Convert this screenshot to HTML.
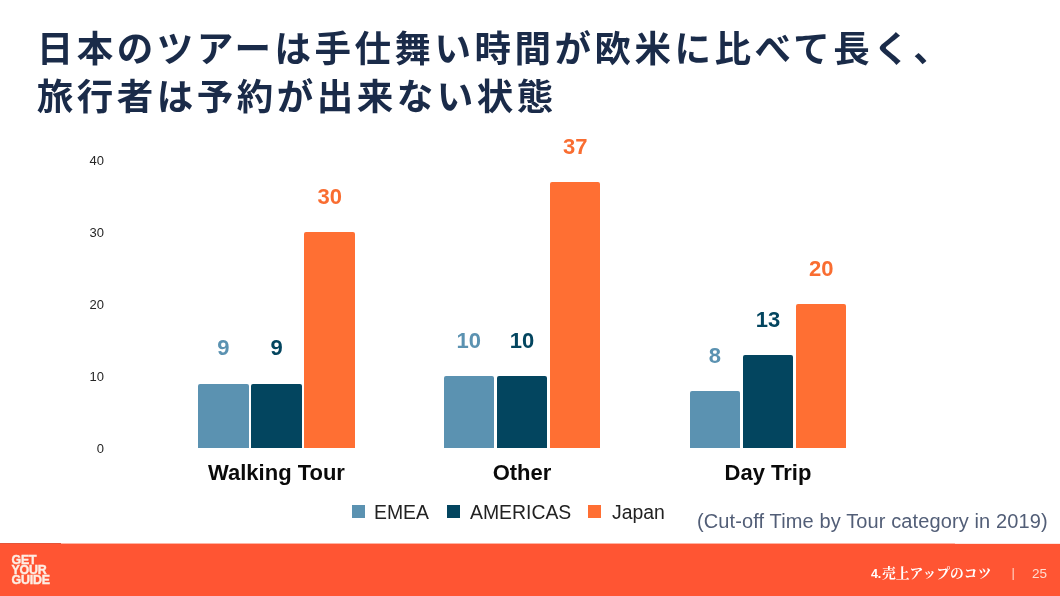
<!DOCTYPE html>
<html lang="ja">
<head>
<meta charset="utf-8">
<title>日本のツアーは手仕舞い時間が欧米に比べて長く</title>
<style>
html,body{margin:0;padding:0;background:#fff;}
body{width:1060px;height:596px;position:relative;overflow:hidden;font-family:"Liberation Sans","Noto Sans CJK JP",sans-serif;}
.abs{position:absolute;white-space:nowrap;}
#title{left:36.8px;top:25.5px;font-family:"Liberation Sans","Noto Sans CJK JP",sans-serif;font-weight:700;font-size:36.5px;line-height:48px;color:#1a2b49;letter-spacing:3.5px;}
.bar{position:absolute;border-radius:2px 2px 0 0;}
.emea{background:#5b92b1;}
.amer{background:#03455f;}
.jpn{background:#ff6f33;}
.ytick{position:absolute;left:64px;width:40px;text-align:right;font-size:13px;line-height:14px;color:#262626;}
.val{position:absolute;width:60px;text-align:center;font-weight:700;font-size:22px;line-height:24px;}
.cat{position:absolute;width:200px;text-align:center;font-weight:700;font-size:22px;line-height:26px;color:#0a0a0a;}
.lg{position:absolute;font-size:19.4px;line-height:22px;color:#222;top:501px;}
.sq{position:absolute;width:13px;height:13px;top:505px;}
#caption{left:697px;top:509px;font-family:"Liberation Sans",sans-serif;font-size:20px;line-height:24px;color:#525e77;letter-spacing:0.12px;}
#footer{position:absolute;left:0;top:544px;width:1060px;height:52px;background:#ff5533;}
#fedge{position:absolute;left:0;top:543px;width:1060px;height:1px;background:linear-gradient(to right,#e4553a 0,#e4553a 61px,#ffb3a3 61px,#ffb3a3 955px,#ffe4de 955px);}
#logo{left:11.5px;top:554.5px;color:#fdeee4;font-weight:700;font-size:12.4px;line-height:10.4px;letter-spacing:-0.2px;-webkit-text-stroke:0.4px #fdeee4;}
#ftxt{left:871px;top:565px;color:#fff;font-family:"Liberation Serif","Noto Serif CJK SC",serif;font-weight:700;font-size:13.8px;line-height:18px;}
#fsep{left:1011.5px;top:564px;color:#ffd3c4;font-size:13px;line-height:18px;}
#fnum{left:1032px;top:565px;color:#ffdccf;font-size:13.5px;line-height:18px;}
</style>
</head>
<body>
<div id="title" class="abs">日本のツアーは手仕舞い時間が欧米に比べて長く、<br>旅行者は予約が出来ない状態</div>

<div class="ytick" style="top:154px">40</div>
<div class="ytick" style="top:226px">30</div>
<div class="ytick" style="top:298px">20</div>
<div class="ytick" style="top:370px">10</div>
<div class="ytick" style="top:442px">0</div>

<!-- group Walking Tour -->
<div class="bar emea" style="left:198.0px;top:383.6px;width:50.6px;height:64.8px"></div>
<div class="val" style="left:193.3px;top:336.3px;color:#5b92b1">9</div>
<div class="bar amer" style="left:251.2px;top:383.6px;width:50.6px;height:64.8px"></div>
<div class="val" style="left:246.5px;top:336.3px;color:#03455f">9</div>
<div class="bar jpn" style="left:304.4px;top:232.4px;width:50.6px;height:216.0px"></div>
<div class="val" style="left:299.7px;top:185.1px;color:#f96d31">30</div>
<div class="cat" style="left:176.5px;top:460px">Walking Tour</div>

<!-- group Other -->
<div class="bar emea" style="left:443.5px;top:376.4px;width:50.6px;height:72.0px"></div>
<div class="val" style="left:438.8px;top:329.1px;color:#5b92b1">10</div>
<div class="bar amer" style="left:496.7px;top:376.4px;width:50.6px;height:72.0px"></div>
<div class="val" style="left:492.0px;top:329.1px;color:#03455f">10</div>
<div class="bar jpn" style="left:549.9px;top:182.0px;width:50.6px;height:266.4px"></div>
<div class="val" style="left:545.2px;top:134.7px;color:#f96d31">37</div>
<div class="cat" style="left:422.0px;top:460px">Other</div>

<!-- group Day Trip -->
<div class="bar emea" style="left:689.5px;top:390.8px;width:50.6px;height:57.6px"></div>
<div class="val" style="left:684.8px;top:343.5px;color:#5b92b1">8</div>
<div class="bar amer" style="left:742.7px;top:354.8px;width:50.6px;height:93.6px"></div>
<div class="val" style="left:738.0px;top:307.5px;color:#03455f">13</div>
<div class="bar jpn" style="left:795.9px;top:304.4px;width:50.6px;height:144.0px"></div>
<div class="val" style="left:791.2px;top:257.1px;color:#f96d31">20</div>
<div class="cat" style="left:668.0px;top:460px">Day Trip</div>

<!-- legend -->
<div class="sq emea" style="left:352px"></div><div class="lg" style="left:374px">EMEA</div>
<div class="sq amer" style="left:447px"></div><div class="lg" style="left:470px">AMERICAS</div>
<div class="sq jpn" style="left:588px"></div><div class="lg" style="left:612px">Japan</div>

<div id="caption" class="abs">(Cut-off Time by Tour category in 2019)</div>

<div id="fedge"></div>
<div id="footer"></div>
<div id="logo" class="abs">GET<br>YOUR<br>GUIDE</div>
<div id="ftxt" class="abs"><span style="font-family:'Liberation Sans',sans-serif;font-size:12.5px;letter-spacing:-0.3px;margin-right:1.2px">4.</span>売上アップのコツ</div>
<div id="fsep" class="abs">|</div>
<div id="fnum" class="abs">25</div>
</body>
</html>
